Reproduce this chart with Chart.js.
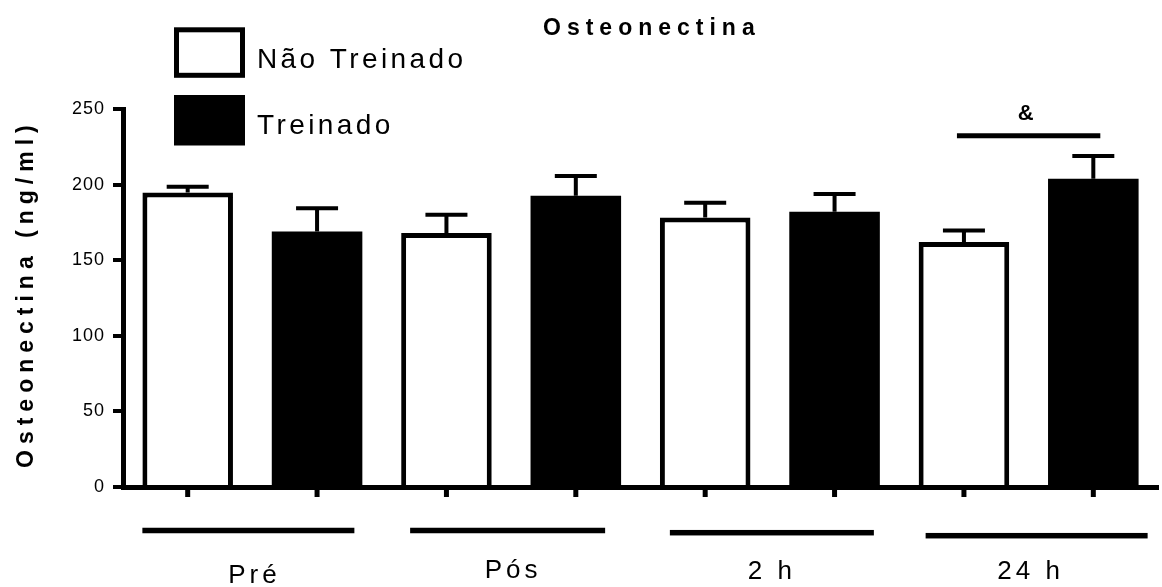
<!DOCTYPE html>
<html>
<head>
<meta charset="utf-8">
<script src="https://cdn.jsdelivr.net/npm/chart.js@4.4.1/dist/chart.umd.min.js"></script>
<style>
  html, body { margin: 0; padding: 0; background: #fff; }
  canvas { display: block; }
</style>
</head>
<body>
<canvas id="osteoChart" width="1162" height="587"></canvas>
<script>
// values (ng/ml), mean + upper error bar
const categories = ['Pré', 'Pós', '2 h', '24 h'];
const seriesNames = ['Não Treinado', 'Treinado'];
const naoTreinado = [194.8, 168.0, 178.3, 162.0];
const naoTreinadoErr = [3.8, 12.1, 9.7, 7.6];
const treinado = [169.0, 192.7, 182.0, 203.9];
const treinadoErr = [15.3, 13.0, 11.8, 15.0];
const yTicks = [0, 50, 100, 150, 200, 250];
const sigCategory = 3;
const sigLevel = 232.3;
const sigMark = '&';

const FONT = '"Liberation Sans", Arial, Helvetica, sans-serif';
Chart.defaults.font.family = FONT;

// underline brackets below each group (offsets from the group centre) and label baselines
const bracketSpan = [[-110, 102], [-101, 94], [-100, 104], [-103, 119]];
const bracketDrop = [43.5, 43.5, 45.7, 48.7];
const labelDrop = [96, 91, 92, 92];

const errors = [naoTreinadoErr, treinadoErr];

const extrasPlugin = {
  id: 'extras',
  beforeDraw(chart) {
    // spaced-out tick text like the original figure
    chart.ctx.letterSpacing = '1px';
  },
  afterDatasetsDraw(chart) {
    const ctx = chart.ctx;
    const y = chart.scales.y;
    ctx.save();
    ctx.strokeStyle = '#000';
    ctx.lineWidth = 4;
    chart.data.datasets.forEach((ds, di) => {
      const meta = chart.getDatasetMeta(di);
      meta.data.forEach((bar, i) => {
        const top = y.getPixelForValue(ds.data[i]);
        const cap = y.getPixelForValue(ds.data[i] + errors[di][i]);
        ctx.beginPath();
        ctx.moveTo(bar.x, top);
        ctx.lineTo(bar.x, cap);
        ctx.moveTo(bar.x - 21, cap);
        ctx.lineTo(bar.x + 21, cap);
        ctx.stroke();
      });
    });
    ctx.restore();
  },
  afterDraw(chart) {
    const ctx = chart.ctx;
    const area = chart.chartArea;
    const x = chart.scales.x;
    const y = chart.scales.y;
    ctx.save();
    ctx.fillStyle = '#000';
    ctx.strokeStyle = '#000';

    // small ticks under every bar
    chart.data.datasets.forEach((ds, di) => {
      chart.getDatasetMeta(di).data.forEach(bar => {
        ctx.fillRect(bar.x - 2.5, area.bottom + 2, 5, 8);
      });
    });

    // group brackets and labels
    ctx.font = '26px ' + FONT;
    ctx.letterSpacing = '4px';
    ctx.textAlign = 'center';
    ctx.textBaseline = 'alphabetic';
    categories.forEach((c, i) => {
      const cx = x.getPixelForValue(i);
      const ly = area.bottom + bracketDrop[i];
      ctx.fillRect(cx + bracketSpan[i][0], ly - 2.75, bracketSpan[i][1] - bracketSpan[i][0], 5.5);
      ctx.fillText(c, cx + 2, area.bottom + labelDrop[i]);
    });

    // significance bar over 24 h
    const m0 = chart.getDatasetMeta(0).data[sigCategory];
    const m1 = chart.getDatasetMeta(1).data[sigCategory];
    const sy = y.getPixelForValue(sigLevel);
    ctx.fillRect(m0.x - 7, sy - 2.5, (m1.x + 7) - (m0.x - 7), 5);
    ctx.font = 'bold 22px ' + FONT;
    ctx.letterSpacing = '0px';
    ctx.fillText(sigMark, (m0.x + m1.x) / 2 - 3, sy - 16);

    // title
    ctx.textAlign = 'left';
    ctx.font = 'bold 23px ' + FONT;
    ctx.letterSpacing = '6px';
    ctx.fillText('Osteonectina', 543, 35);

    // y axis title
    ctx.save();
    ctx.translate(33, 468);
    ctx.rotate(-Math.PI / 2);
    ctx.fillText('Osteonectina (ng/ml)', 0, 0);
    ctx.restore();

    // legend
    const legendRows = [{ top: 27.3, fill: '#fff', base: 68.3 }, { top: 95, fill: '#000', base: 134 }];
    ctx.font = '28px ' + FONT;
    ctx.letterSpacing = '3.4px';
    legendRows.forEach((row, i) => {
      const ds = chart.data.datasets[i];
      ctx.fillStyle = ds.backgroundColor;
      ctx.fillRect(174, row.top, 71, 50.5);
      if (ds.borderWidth) {
        ctx.lineWidth = 5;
        ctx.strokeRect(176.5, row.top + 2.5, 66, 45.5);
      }
      ctx.fillStyle = '#000';
      ctx.fillText(seriesNames[i], 257, row.base);
    });
    ctx.restore();
  }
};

new Chart(document.getElementById('osteoChart'), {
  type: 'bar',
  data: {
    labels: categories,
    datasets: [
      {
        label: seriesNames[0],
        data: naoTreinado,
        backgroundColor: '#fff',
        borderColor: '#000',
        borderWidth: 5,
        categoryPercentage: 1.0,
        barPercentage: 0.7
      },
      {
        label: seriesNames[1],
        data: treinado,
        backgroundColor: '#000',
        borderWidth: 0,
        categoryPercentage: 1.0,
        barPercentage: 0.7
      }
    ]
  },
  options: {
    responsive: false,
    animation: false,
    events: [],
    layout: { padding: { top: 109, right: 4, bottom: 100, left: 0 } },
    plugins: {
      legend: { display: false },
      title: { display: false },
      tooltip: { enabled: false }
    },
    scales: {
      x: {
        offset: true,
        grid: { display: false, drawTicks: false },
        ticks: { display: false },
        border: { display: true, color: '#000', width: 5, z: 1 },
        afterFit(scale) { scale.height = 0; }
      },
      y: {
        min: 0,
        max: 250,
        afterBuildTicks(scale) { scale.ticks = yTicks.map(v => ({ value: v })); },
        ticks: { color: '#000', font: { size: 18 }, padding: 8 },
        grid: { drawOnChartArea: false, drawTicks: true, tickLength: 10, lineWidth: 4, color: '#000' },
        border: { display: true, color: '#000', width: 5 },
        afterFit(scale) { scale.width = 123; }
      }
    }
  },
  plugins: [extrasPlugin]
});
</script>
</body>
</html>
